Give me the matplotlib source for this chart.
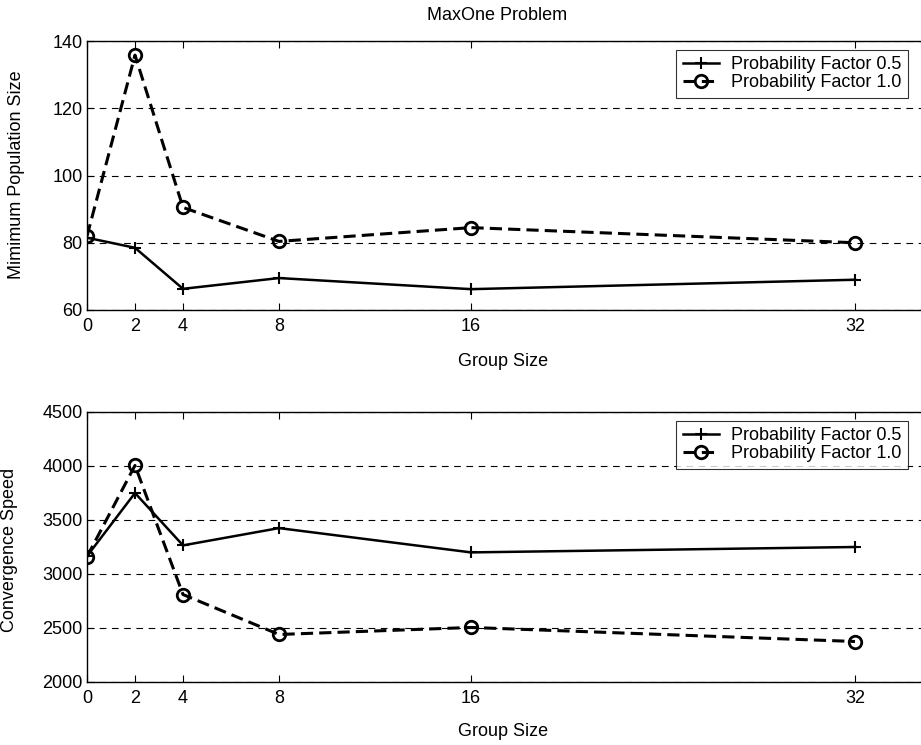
import matplotlib
matplotlib.use('Agg')
import matplotlib.pyplot as plt

plt.rcParams['font.family'] = ['Liberation Sans', 'DejaVu Sans']
plt.rcParams['font.size'] = 13

group_size = [0, 2, 4, 8, 16, 32]
labels = ['Probability Factor 0.5', 'Probability Factor 1.0']

# minimum population size
pop_05 = [81.5, 78.5, 66.3, 69.5, 66.2, 69.0]
pop_10 = [82.0, 135.8, 90.5, 80.4, 84.5, 80.0]

# convergence speed
conv_05 = [3165, 3750, 3265, 3425, 3200, 3250]
conv_10 = [3160, 4005, 2810, 2440, 2505, 2375]

fig = plt.figure(figsize=(9.21, 7.45), dpi=100)
W, H = 921, 745


def make_axes(top, bottom):
    left, right = 87, 927
    return fig.add_axes([left / W, 1 - bottom / H, (right - left) / W, (bottom - top) / H])


def style(ax, ylim, yticks):
    ax.set_xlim(0, 35)
    ax.set_ylim(*ylim)
    ax.set_xticks(group_size)
    ax.set_yticks(yticks)
    ax.tick_params(axis='x', direction='in', length=5, width=0.8, top=True, labelsize=13, pad=6)
    ax.tick_params(axis='y', direction='in', length=5, width=0.8, right=False, labelsize=13, pad=3)
    ax.yaxis.grid(True, linestyle=(0, (6, 5)), color='black', linewidth=0.8)
    ax.set_axisbelow(True)
    for s in ax.spines.values():
        s.set_linewidth(1.0)
    ax.spines['right'].set_visible(False)


def add_legend(ax):
    leg = ax.legend(loc='upper right', bbox_to_anchor=(0.9775, 0.966), frameon=True, fancybox=False,
                    edgecolor='black', fontsize=13, handlelength=2.0, handletextpad=0.7,
                    borderpad=0.35, labelspacing=0.05, borderaxespad=0)
    leg.get_frame().set_linewidth(0.8)


ax1 = make_axes(41, 310)
ax1.plot(group_size, pop_05, '-', color='black', lw=1.8, marker='+', ms=9, mew=1.5, label=labels[0])
ax1.plot(group_size, pop_10, '--', color='black', lw=2.2, dashes=(4, 2), marker='o', ms=9,
         mfc='none', mew=2, label=labels[1])
style(ax1, (60, 140), [60, 80, 100, 120, 140])
add_legend(ax1)

ax2 = make_axes(412, 682)
ax2.plot(group_size, conv_05, '-', color='black', lw=1.8, marker='+', ms=9, mew=1.5, label=labels[0])
ax2.plot(group_size, conv_10, '--', color='black', lw=2.2, dashes=(4, 2), marker='o', ms=9,
         mfc='none', mew=2, label=labels[1])
style(ax2, (2000, 4500), [2000, 2500, 3000, 3500, 4000, 4500])
add_legend(ax2)

fig.text(497 / W, 1 - 15 / H, 'MaxOne Problem', ha='center', va='center', fontsize=13)
fig.text(503 / W, 1 - 362 / H, 'Group Size', ha='center', va='center', fontsize=13)
fig.text(503 / W, 1 - 732 / H, 'Group Size', ha='center', va='center', fontsize=13)
fig.text(17 / W, 1 - 175 / H, 'Mimimum Population Size', ha='center', va='center',
         rotation=90, fontsize=13)
fig.text(10 / W, 1 - 550 / H, 'Convergence Speed', ha='center', va='center',
         rotation=90, fontsize=13)

fig.savefig('out.png', dpi=100)
